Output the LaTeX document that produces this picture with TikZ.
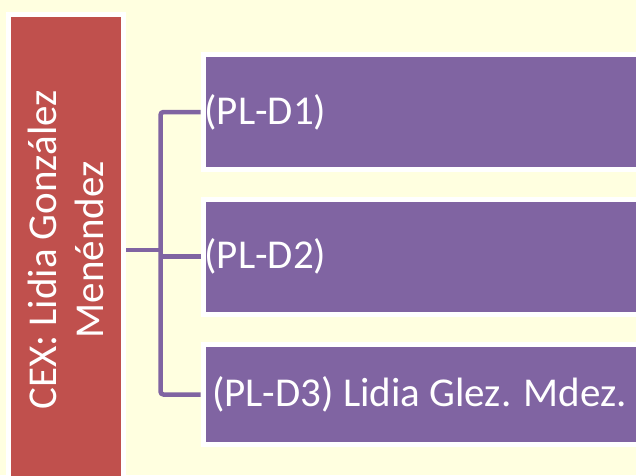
\documentclass[tikz,border=0pt]{standalone}
\usepackage{fontspec}
\setmainfont{Carlito}
\usetikzlibrary{positioning}
\definecolor{fondo}{RGB}{255,255,224}
\definecolor{cexrojo}{RGB}{192,80,77}
\definecolor{plmorado}{RGB}{128,100,162}
\newcommand{\textogrande}{\fontsize{41}{47}\selectfont}
\tikzset{
  cexbox/.style={rectangle,fill=cexrojo,draw=white,line width=5pt,rotate=90,
    minimum width=471pt,minimum height=115pt,align=center,text=white,font=\textogrande},
  plbox/.style={rectangle,fill=plmorado,draw=white,line width=5pt,anchor=west,
    minimum height=115pt,text width=560pt,align=flush left,inner xsep=1.5pt,text=white,font=\textogrande},
  conn/.style={draw=plmorado,line width=4.5pt}
}

\begin{document}
\begin{tikzpicture}[x=1pt,y=1pt]
    \fill[fondo] (0,0) rectangle (636,475);
    \useasboundingbox (0,0) rectangle (636,475);

    \node[cexbox] (cex) at (66,225) {CEX: Lidia González\\Menéndez};

    \node[plbox] (pl1) at (200.5,363) {(PL-D1)};
    \node[plbox] (pl2) at (200.5,218.5) {(PL-D2)};
    \node[plbox,minimum height=100pt,inner xsep=9pt] (pl3) at (200.5,80.5) {(PL-D3) Lidia Glez. Mdez.};

    \coordinate (trunk) at (160.5,225);
    \draw[conn] (cex.south) -- (trunk);
    \draw[conn,rounded corners=3pt] (pl1.west) -| (trunk) |- (pl3.west);
    \draw[conn] (trunk |- pl2.west) -- (pl2.west);
\end{tikzpicture}
\end{document}
